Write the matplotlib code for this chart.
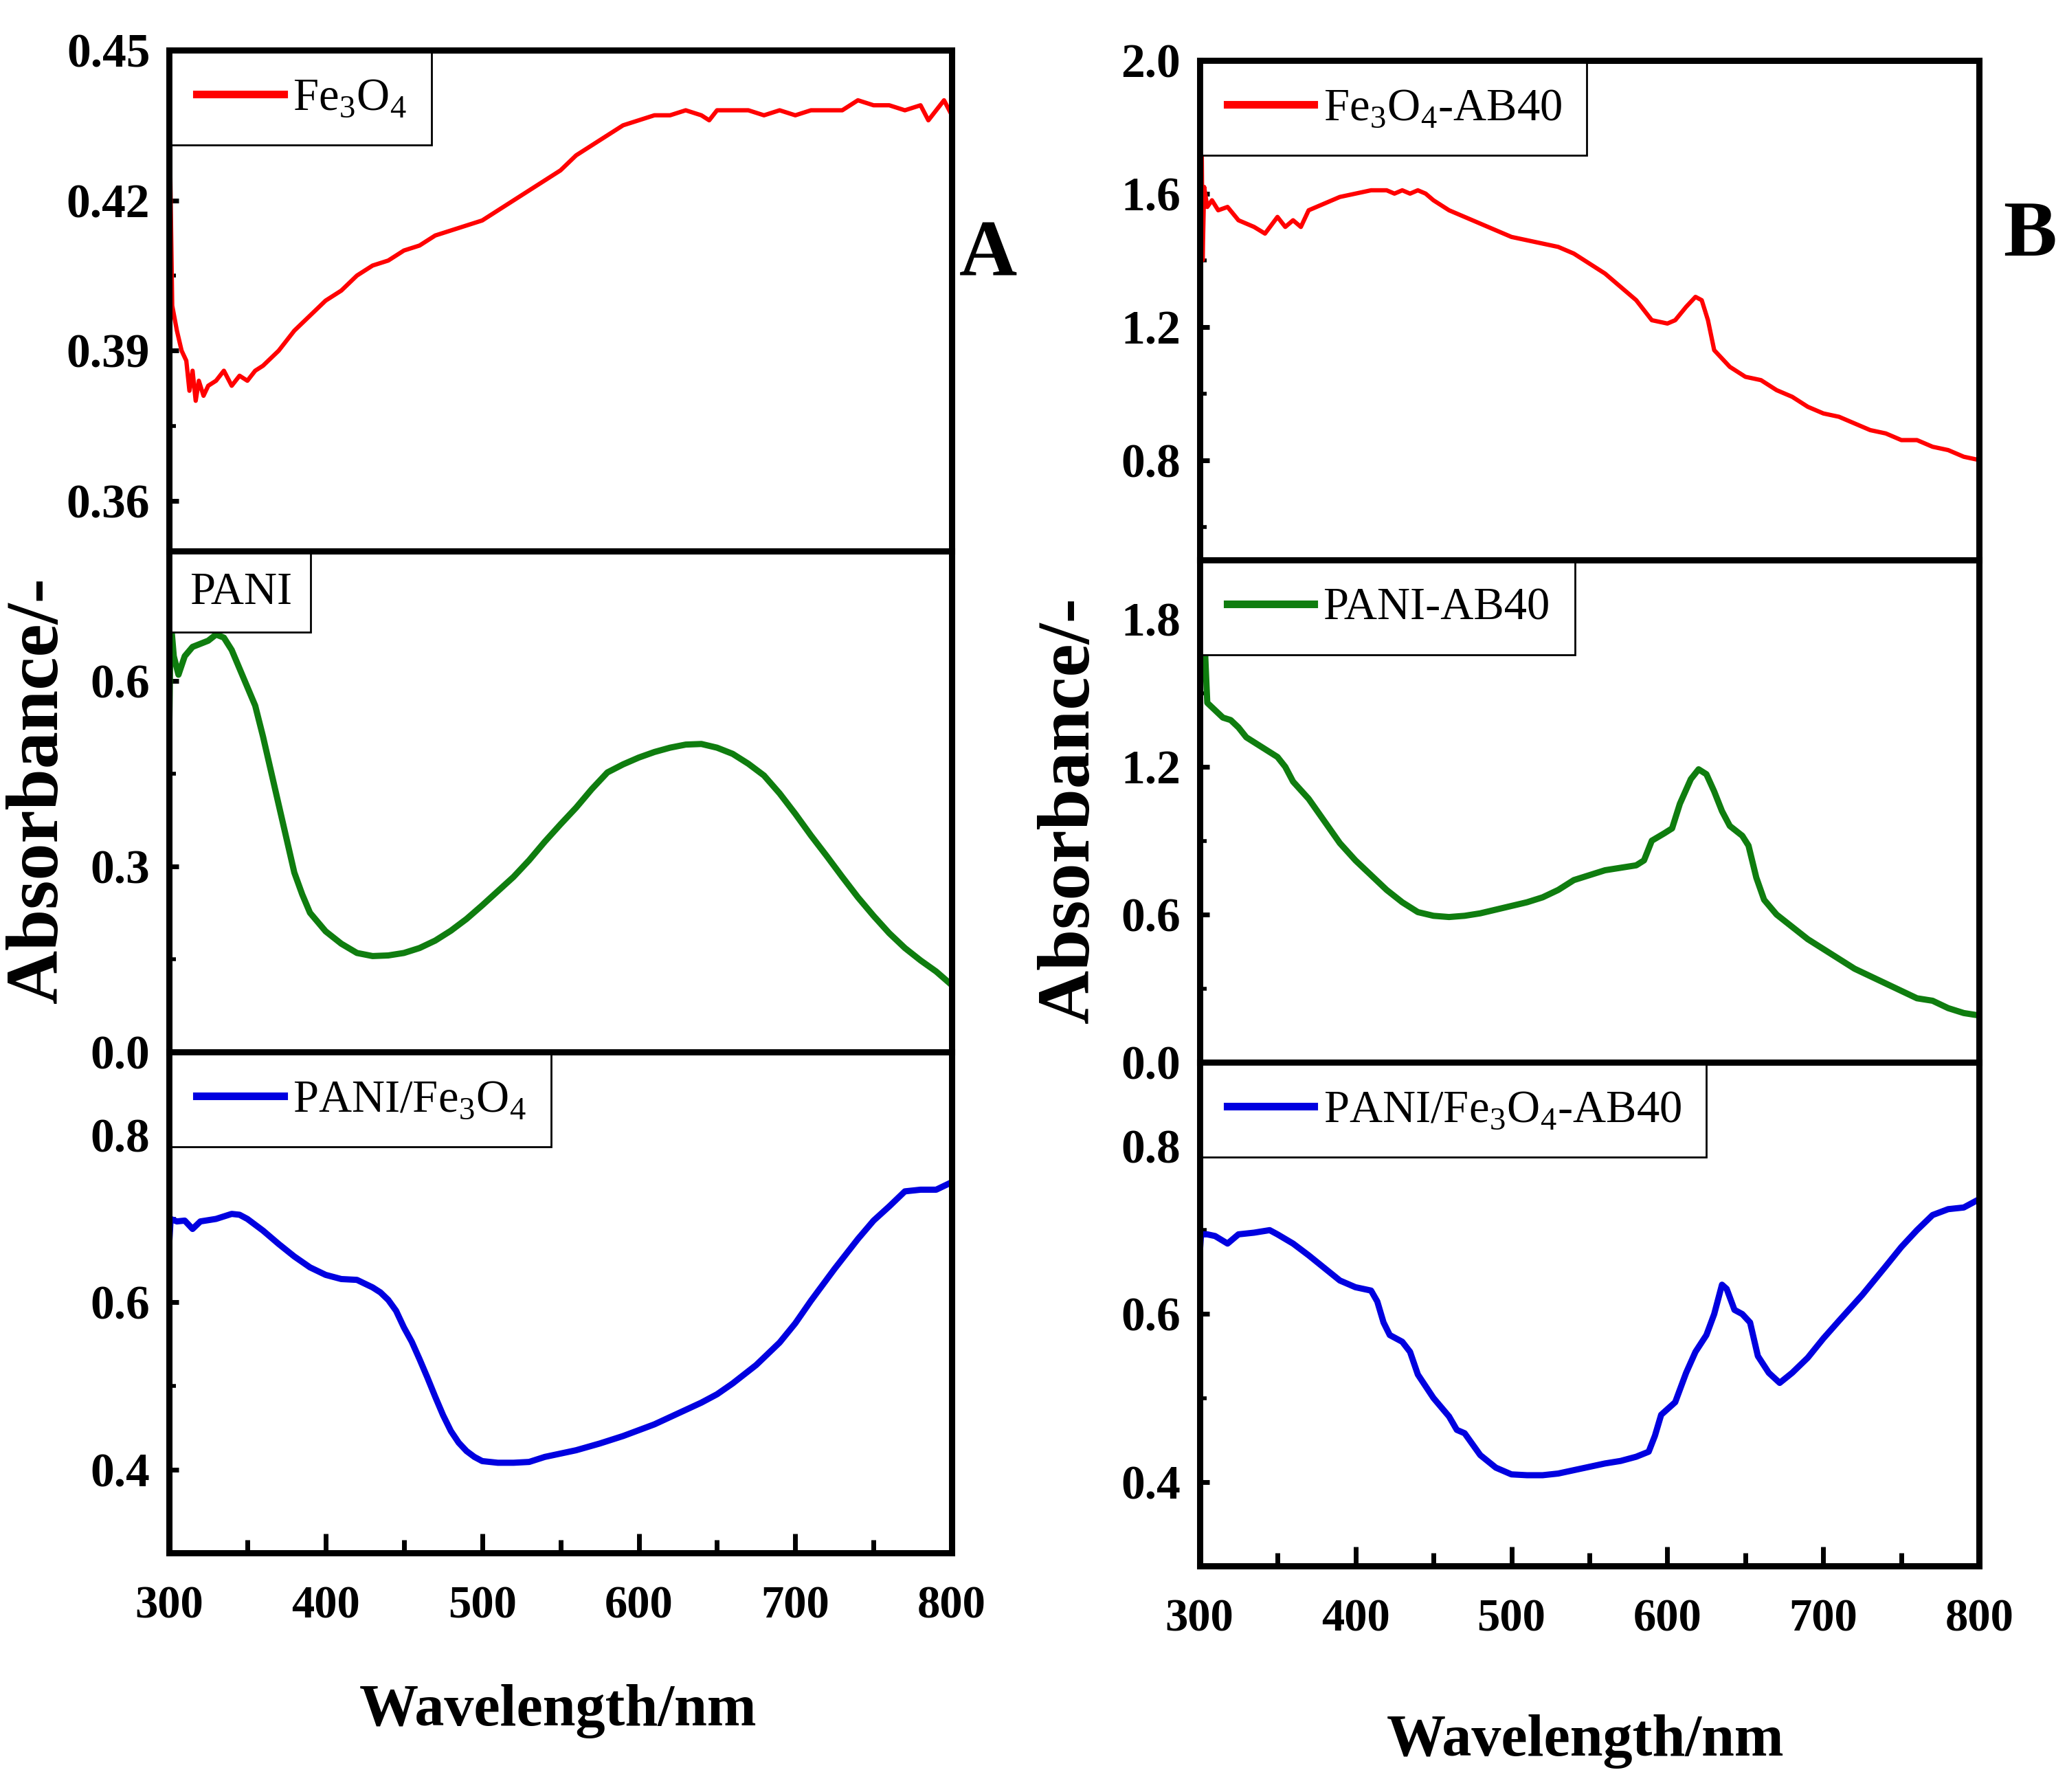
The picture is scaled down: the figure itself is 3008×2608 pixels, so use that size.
import numpy as np
import matplotlib
matplotlib.use("Agg")
import matplotlib.pyplot as plt
from matplotlib.lines import Line2D
from matplotlib.ticker import MultipleLocator

plt.rcParams['font.family'] = ['Liberation Serif', 'DejaVu Serif']
plt.rcParams['mathtext.fontset'] = 'custom'
plt.rcParams['mathtext.rm'] = 'Liberation Serif'

# (wavelength nm, absorbance)
fe3o4 = np.array([
    (300, 0.35), (300.5, 0.431), (302, 0.399), (305, 0.394), (308, 0.390), (311, 0.388),
    (313, 0.382), (315, 0.386), (317, 0.380), (319, 0.384), (322, 0.381), (325, 0.383),
    (330, 0.384), (335, 0.386), (340, 0.383), (345, 0.385), (350, 0.384), (355, 0.386),
    (360, 0.387), (370, 0.390), (380, 0.394), (390, 0.397), (400, 0.400), (410, 0.402),
    (420, 0.405), (430, 0.407), (440, 0.408), (450, 0.410), (460, 0.411), (470, 0.413),
    (480, 0.414), (490, 0.415), (500, 0.416), (510, 0.418), (520, 0.420), (530, 0.422),
    (540, 0.424), (550, 0.426), (560, 0.429), (570, 0.431), (580, 0.433), (590, 0.435),
    (600, 0.436), (610, 0.437), (620, 0.437), (630, 0.438), (640, 0.437), (645, 0.436),
    (650, 0.438), (660, 0.438), (670, 0.438), (680, 0.437), (690, 0.438), (700, 0.437),
    (710, 0.438), (720, 0.438), (730, 0.438), (740, 0.440), (750, 0.439), (760, 0.439),
    (770, 0.438), (780, 0.439), (785, 0.436), (790, 0.438), (795, 0.440), (800, 0.437)])

pani = np.array([
    (300, 0.50), (301, 0.70), (303, 0.64), (306, 0.61), (310, 0.64), (315, 0.655),
    (320, 0.66), (325, 0.665), (330, 0.675), (335, 0.67), (340, 0.65), (345, 0.62),
    (350, 0.59), (355, 0.56), (360, 0.51), (365, 0.455), (370, 0.40), (375, 0.345),
    (380, 0.29), (385, 0.255), (390, 0.225), (400, 0.195), (410, 0.175), (420, 0.16),
    (430, 0.155), (440, 0.156), (450, 0.16), (460, 0.168), (470, 0.18), (480, 0.196),
    (490, 0.215), (500, 0.237), (510, 0.26), (520, 0.283), (530, 0.31), (540, 0.34),
    (550, 0.368), (560, 0.395), (570, 0.425), (580, 0.452), (590, 0.465), (600, 0.476),
    (610, 0.485), (620, 0.492), (630, 0.497), (640, 0.498), (650, 0.492), (660, 0.482),
    (670, 0.466), (680, 0.447), (690, 0.418), (700, 0.385), (710, 0.35), (720, 0.317),
    (730, 0.283), (740, 0.25), (750, 0.22), (760, 0.192), (770, 0.168), (780, 0.148),
    (790, 0.13), (800, 0.108)])

pani_fe3o4 = np.array([
    (300, 0.668), (301, 0.70), (305, 0.697), (310, 0.698), (315, 0.688), (320, 0.697),
    (330, 0.700), (340, 0.706), (345, 0.705), (350, 0.700), (360, 0.686), (370, 0.670),
    (380, 0.655), (390, 0.642), (400, 0.633), (410, 0.628), (420, 0.627), (430, 0.618),
    (435, 0.612), (440, 0.603), (445, 0.590), (450, 0.570), (455, 0.553), (460, 0.532),
    (465, 0.510), (470, 0.487), (475, 0.465), (480, 0.446), (485, 0.432), (490, 0.422),
    (495, 0.415), (500, 0.410), (510, 0.408), (520, 0.408), (530, 0.409), (540, 0.415),
    (550, 0.419), (560, 0.423), (575, 0.431), (590, 0.440), (600, 0.447), (610, 0.454),
    (625, 0.467), (640, 0.480), (650, 0.490), (660, 0.503), (675, 0.525), (690, 0.552),
    (700, 0.575), (710, 0.602), (725, 0.640), (740, 0.676), (750, 0.698), (760, 0.715),
    (770, 0.733), (780, 0.735), (790, 0.735), (800, 0.744)])

fe3o4_ab40 = np.array([
    (300, 1.38), (301, 2.0), (302, 1.40), (303, 1.62), (305, 1.56), (308, 1.58),
    (312, 1.55), (318, 1.56), (325, 1.52), (335, 1.50), (342, 1.48), (350, 1.53),
    (355, 1.50), (360, 1.52), (365, 1.50), (370, 1.55), (380, 1.57), (390, 1.59),
    (400, 1.60), (410, 1.61), (420, 1.61), (425, 1.60), (430, 1.61), (435, 1.60),
    (440, 1.61), (445, 1.60), (450, 1.58), (460, 1.55), (470, 1.53), (480, 1.51),
    (490, 1.49), (500, 1.47), (510, 1.46), (520, 1.45), (530, 1.44), (540, 1.42),
    (550, 1.39), (560, 1.36), (570, 1.32), (580, 1.28), (590, 1.22), (600, 1.21),
    (605, 1.22), (612, 1.26), (618, 1.29), (622, 1.28), (626, 1.22), (630, 1.13),
    (640, 1.08), (650, 1.05), (660, 1.04), (670, 1.01), (680, 0.99), (690, 0.96),
    (700, 0.94), (710, 0.93), (720, 0.91), (730, 0.89), (740, 0.88), (750, 0.86),
    (760, 0.86), (770, 0.84), (780, 0.83), (790, 0.81), (800, 0.80)])

pani_ab40 = np.array([
    (300, 1.45), (301, 1.82), (303, 1.75), (305, 1.46), (310, 1.43), (315, 1.40),
    (320, 1.39), (325, 1.36), (330, 1.32), (340, 1.28), (350, 1.24), (355, 1.20),
    (360, 1.14), (370, 1.07), (380, 0.98), (390, 0.89), (400, 0.82), (410, 0.76),
    (420, 0.70), (430, 0.65), (440, 0.61), (450, 0.595), (460, 0.59), (470, 0.595),
    (480, 0.605), (490, 0.62), (500, 0.635), (510, 0.65), (520, 0.67), (530, 0.70),
    (540, 0.74), (550, 0.76), (560, 0.78), (570, 0.79), (580, 0.80), (585, 0.82),
    (590, 0.90), (598, 0.93), (603, 0.95), (608, 1.05), (615, 1.15), (620, 1.19),
    (625, 1.17), (630, 1.10), (635, 1.02), (640, 0.96), (648, 0.92), (652, 0.88),
    (657, 0.75), (662, 0.66), (670, 0.60), (680, 0.55), (690, 0.50), (700, 0.46),
    (710, 0.42), (720, 0.38), (730, 0.35), (740, 0.32), (750, 0.29), (760, 0.26),
    (770, 0.25), (780, 0.22), (790, 0.20), (800, 0.19)])

pani_fe3o4_ab40 = np.array([
    (300, 0.667), (301, 0.695), (305, 0.695), (310, 0.693), (318, 0.684), (325, 0.695),
    (335, 0.697), (345, 0.700), (350, 0.695), (360, 0.684), (370, 0.670), (380, 0.655),
    (390, 0.640), (400, 0.632), (410, 0.628), (414, 0.615), (418, 0.590), (422, 0.575),
    (430, 0.567), (435, 0.555), (440, 0.528), (450, 0.500), (460, 0.478), (465, 0.462),
    (470, 0.458), (475, 0.445), (480, 0.432), (490, 0.417), (500, 0.409), (510, 0.408),
    (520, 0.408), (530, 0.410), (540, 0.414), (550, 0.418), (560, 0.422), (570, 0.425),
    (580, 0.430), (588, 0.436), (592, 0.455), (596, 0.480), (605, 0.495), (612, 0.530),
    (618, 0.555), (625, 0.575), (630, 0.600), (635, 0.635), (638, 0.630), (643, 0.605),
    (648, 0.600), (653, 0.590), (658, 0.550), (665, 0.530), (672, 0.518), (680, 0.530),
    (690, 0.548), (700, 0.571), (710, 0.592), (725, 0.623), (740, 0.657), (750, 0.680),
    (760, 0.700), (770, 0.718), (780, 0.725), (790, 0.727), (800, 0.737)])

RED = '#ff0000'
GREEN = '#0f7d0f'
BLUE = '#0000e0'


def style_axis(ax, ylim, major, minor, bottom=False):
    ax.set_xlim(300, 800)
    ax.set_ylim(*ylim)
    ax.yaxis.set_major_locator(MultipleLocator(major))
    ax.yaxis.set_minor_locator(MultipleLocator(minor))
    ax.xaxis.set_major_locator(MultipleLocator(100))
    ax.xaxis.set_minor_locator(MultipleLocator(50))
    for s in ax.spines.values():
        s.set_linewidth(6.5)
    ax.tick_params(axis='y', which='major', direction='in', length=10, width=5,
                   labelsize=50, pad=20, right=False)
    ax.tick_params(axis='y', which='minor', direction='in', length=7, width=4, right=False)
    ax.tick_params(axis='x', which='both', top=False, bottom=bottom, labelbottom=bottom,
                   direction='in', width=5)
    ax.tick_params(axis='x', which='major', length=20, labelsize=48, pad=34)
    ax.tick_params(axis='x', which='minor', length=14)
    for lab in ax.get_yticklabels() + ax.get_xticklabels():
        lab.set_fontweight('bold')


def add_legend(ax, label, color, lw=True):
    if lw:
        h = [Line2D([], [], color=color, lw=8)]
        leg = ax.legend(h, [label], loc='upper left', fontsize=48, handlelength=1.9,
                        handletextpad=0.2, borderaxespad=0.05, borderpad=0.55,
                        fancybox=False, framealpha=1, edgecolor='black')
    else:
        h = [Line2D([], [], lw=0)]
        leg = ax.legend(h, [label], loc='upper left', fontsize=48, handlelength=0,
                        handletextpad=0, borderaxespad=0.05, borderpad=0.4,
                        fancybox=False, framealpha=1, edgecolor='black')
    leg.get_frame().set_linewidth(2)


fig = plt.figure(figsize=(30.08, 26.08), dpi=100)

# panel A
axA1 = fig.add_axes([0.0818, 0.6925, 0.3787, 0.2795])
axA2 = fig.add_axes([0.0818, 0.4130, 0.3787, 0.2795])
axA3 = fig.add_axes([0.0818, 0.1334, 0.3787, 0.2796])

axA1.plot(fe3o4[:, 0], fe3o4[:, 1], color=RED, lw=4.5)
style_axis(axA1, (0.35, 0.45), 0.03, 0.015)
add_legend(axA1, 'Fe$_3$O$_4$', RED)

axA2.plot(pani[:, 0], pani[:, 1], color=GREEN, lw=6.5)
style_axis(axA2, (0.0, 0.81), 0.3, 0.15)
add_legend(axA2, 'PANI', GREEN, lw=False)

axA3.plot(pani_fe3o4[:, 0], pani_fe3o4[:, 1], color=BLUE, lw=6.5)
style_axis(axA3, (0.3, 0.9), 0.2, 0.1, bottom=True)
add_legend(axA3, 'PANI/Fe$_3$O$_4$', BLUE)

# panel B
axB1 = fig.add_axes([0.5803, 0.6875, 0.3773, 0.2788])
axB2 = fig.add_axes([0.5803, 0.4072, 0.3773, 0.2803])
axB3 = fig.add_axes([0.5803, 0.1262, 0.3773, 0.2810])

axB1.plot(fe3o4_ab40[:, 0], fe3o4_ab40[:, 1], color=RED, lw=4.5)
style_axis(axB1, (0.5, 2.0), 0.4, 0.2)
add_legend(axB1, 'Fe$_3$O$_4$-AB40', RED)

axB2.plot(pani_ab40[:, 0], pani_ab40[:, 1], color=GREEN, lw=6.5)
style_axis(axB2, (0.0, 2.04), 0.6, 0.3)
add_legend(axB2, 'PANI-AB40', GREEN)

axB3.plot(pani_fe3o4_ab40[:, 0], pani_fe3o4_ab40[:, 1], color=BLUE, lw=6.5)
style_axis(axB3, (0.3, 0.9), 0.2, 0.1, bottom=True)
add_legend(axB3, 'PANI/Fe$_3$O$_4$-AB40', BLUE)

for ax in (axA1, axA2, axB1, axB2):
    ax.tick_params(axis='x', which='both', bottom=False)

fig.text(0.019, 0.559, 'Absorbance/-', rotation=90, ha='center', va='center',
         fontsize=78, fontweight='bold')
fig.text(0.518, 0.548, 'Absorbance/-', rotation=90, ha='center', va='center',
         fontsize=78, fontweight='bold')
fig.text(0.270, 0.045, 'Wavelength/nm', ha='center', va='center',
         fontsize=62, fontweight='bold')
fig.text(0.767, 0.028, 'Wavelength/nm', ha='center', va='center',
         fontsize=62, fontweight='bold')
fig.text(0.478, 0.857, 'A', ha='center', va='center', fontsize=84, fontweight='bold')
fig.text(0.982, 0.868, 'B', ha='center', va='center', fontsize=84, fontweight='bold')

fig.savefig('out.png', dpi=100)
